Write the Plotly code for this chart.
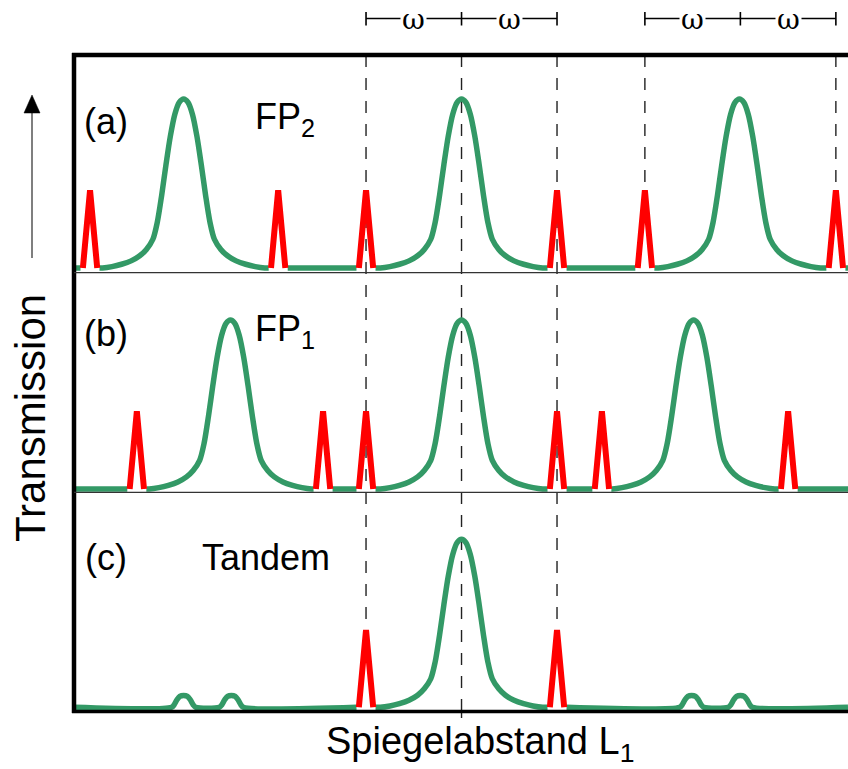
import plotly.graph_objects as go

# ---------------- data (x in units of omega, y relative to FP peak transmission) -------------
fp2_peaks = [-2.91, 0.0, 2.91]            # panel (a) green
fp1_peaks = [-2.42, 0.0, 2.43]            # panel (b) green
tandem_peaks = [0.0]                      # panel (c) green
tandem_bumps = [-2.91, -2.41, 2.41, 2.92] # panel (c) small residual bumps

laser_a = [-3.89, -1.92, -1.0, 1.0, 1.92, 3.92]
laser_b = [-3.40, -1.45, -1.0, 1.0, 1.47, 3.42]
laser_c = [-1.0, 1.0]
laser_height = 0.46
laser_halfwidth = 0.075

# FP transmission line profile (offset from centre, height)
peak_offsets = [0.0, 0.046, 0.092, 0.139, 0.185, 0.23, 0.276, 0.322, 0.39, 0.46, 0.55, 0.65, 0.75, 0.85]
peak_heights = [1.0, 0.98, 0.91, 0.78, 0.61, 0.43, 0.27, 0.17, 0.11, 0.072, 0.042, 0.022, 0.008, 0.0]
bump_offsets = [0.0, 0.04, 0.07, 0.10, 0.125]
bump_heights = [0.07, 0.065, 0.045, 0.015, 0.0]

XMIN, XMAX = -4.058, 4.047
GAP = 0.10
GREEN = "#339966"
RED = "#ff0000"
FONT = "Liberation Sans, Arial, sans-serif"


def green_curve(peaks, bumps, gaps):
    pts = [(XMIN, 0.0), (XMAX, 0.0)]
    for c in peaks:
        for o, h in zip(peak_offsets, peak_heights):
            pts.append((c - o, h))
            if o:
                pts.append((c + o, h))
    for c in bumps:
        for o, h in zip(bump_offsets, bump_heights):
            pts.append((c - o, h))
            if o:
                pts.append((c + o, h))
    lefts = set()
    for g in gaps:
        pts.append((g - GAP, 0.0))
        pts.append((g + GAP, 0.0))
        lefts.add(round(g - GAP, 6))
    pts.sort()
    xs, ys = [], []
    for x, y in pts:
        xs.append(x)
        ys.append(y)
        if round(x, 6) in lefts:
            xs.append(None)
            ys.append(None)
    return xs, ys


def red_curve(pos):
    xs, ys = [], []
    for p in pos:
        xs += [p - laser_halfwidth, p, p + laser_halfwidth, None]
        ys += [0.0, laser_height, 0.0, None]
    return xs, ys


H = 769.0
W_PLOT = 774.0
L_MARGIN = 74.0


def py(p):  # pixel row -> paper y
    return 1 - p / H


def px(p):  # pixel column -> paper x
    return (p - L_MARGIN) / W_PLOT


fig = go.Figure()

panels = [
    ("y3", fp2_peaks, [], laser_a),
    ("y2", fp1_peaks, [], laser_b),
    ("y", tandem_peaks, tandem_bumps, laser_c),
]
for yref, peaks, bumps, laser in panels:
    gx, gy = green_curve(peaks, bumps, laser)
    fig.add_trace(go.Scatter(x=gx, y=gy, mode="lines", yaxis=yref,
                             line=dict(color=GREEN, width=5.5, shape="spline", smoothing=0.8),
                             hoverinfo="skip", showlegend=False, cliponaxis=False))
    rx, ry = red_curve(laser)
    fig.add_trace(go.Scatter(x=rx, y=ry, mode="lines", yaxis=yref,
                             line=dict(color=RED, width=6), hoverinfo="skip",
                             showlegend=False, cliponaxis=False))

ax_common = dict(visible=False, showgrid=False, zeroline=False, fixedrange=True)
fig.update_layout(
    width=848, height=769,
    margin=dict(l=74, r=0, t=0, b=0),
    paper_bgcolor="white", plot_bgcolor="white",
    showlegend=False,
    xaxis=dict(domain=[0, 1], range=[XMIN, XMAX], **ax_common),
    yaxis=dict(domain=[py(711), py(492.3)], range=[-0.022, 1.280], **ax_common),
    yaxis2=dict(domain=[py(492.3), py(272.7)], range=[-0.0195, 1.280], **ax_common),
    yaxis3=dict(domain=[py(272.7), py(55)], range=[-0.028, 1.260], **ax_common),
)

shapes = []
# dashed reference lines
dashed = [(-1.0, 630), (0.0, 711), (1.0, 630), (1.92, 190), (3.92, 190)]
for x, ybot in dashed:
    shapes.append(dict(type="line", xref="x", yref="paper", x0=x, x1=x, y0=py(55), y1=py(ybot),
                       line=dict(color="#222", width=1.4, dash="12px,11px"), layer="below"))
# bottom tick
shapes.append(dict(type="line", xref="x", yref="paper", x0=0, x1=0, y0=py(711), y1=py(718),
                   line=dict(color="#222", width=1.4)))
# frame
shapes.append(dict(type="line", xref="paper", yref="paper", x0=px(72), x1=1.01, y0=py(55), y1=py(55),
                   line=dict(color="black", width=4.5)))
shapes.append(dict(type="line", xref="paper", yref="paper", x0=0, x1=0, y0=py(53), y1=py(713),
                   line=dict(color="black", width=4.5)))
shapes.append(dict(type="line", xref="paper", yref="paper", x0=px(72), x1=1.01, y0=py(711.5), y1=py(711.5),
                   line=dict(color="black", width=3.5)))
for yy in (272.7, 492.3):
    shapes.append(dict(type="line", xref="paper", yref="paper", x0=0, x1=1.01, y0=py(yy), y1=py(yy),
                       line=dict(color="#333", width=1.3)))
# omega brackets
for a, m, b in [(-1.0, 0.0, 1.0), (1.92, 2.92, 3.92)]:
    shapes.append(dict(type="line", xref="x", yref="paper", x0=a, x1=b, y0=py(18.5), y1=py(18.5),
                       line=dict(color="black", width=1.4)))
    for t in (a, m, b):
        shapes.append(dict(type="line", xref="x", yref="paper", x0=t, x1=t, y0=py(12), y1=py(25.5),
                           line=dict(color="black", width=1.6)))
# y arrow
shapes.append(dict(type="line", xref="paper", yref="paper", x0=px(32), x1=px(32), y0=py(258), y1=py(110),
                   line=dict(color="#555", width=1.5)))
shapes.append(dict(type="path", xref="paper", yref="paper",
                   path=f"M {px(32)} {py(95)} L {px(24)} {py(113)} L {px(40)} {py(113)} Z",
                   fillcolor="black", line=dict(color="black", width=0.5)))
fig.update_layout(shapes=shapes)

ann = []


def label(text, x, y, size=36, xanchor="center", xref="x"):
    ann.append(dict(text=text, x=x, y=y, xref=xref, yref="paper", xanchor=xanchor, yanchor="middle",
                    showarrow=False, font=dict(family=FONT, size=size, color="black")))


label("(a)", -3.72, py(122))
label("FP<sub>2</sub>", -2.18, py(119), xanchor="left")
label("(b)", -3.72, py(333))
label("FP<sub>1</sub>", -2.18, py(331), xanchor="left")
label("(c)", -3.72, py(557))
label("Tandem", -2.74, py(557), xanchor="left")
label("Spiegelabstand L<sub>1</sub>", -1.445, py(744), size=38, xanchor="left")
ann.append(dict(text="Transmission", x=px(30), y=py(418), xref="paper", yref="paper",
                xanchor="center", yanchor="middle", textangle=-90, showarrow=False,
                font=dict(family=FONT, size=42, color="black")))
for x in (-0.5, 0.5, 2.42, 3.42):
    ann.append(dict(text="ω", x=x, y=py(0.5), xref="x", yref="paper", xanchor="center", yanchor="top",
                    showarrow=False, bgcolor="white", borderpad=1,
                    font=dict(family="DejaVu Serif, Liberation Serif, serif", size=28, color="black")))
fig.update_layout(annotations=ann)

fig.write_html("out.html", config={"displayModeBar": False})
